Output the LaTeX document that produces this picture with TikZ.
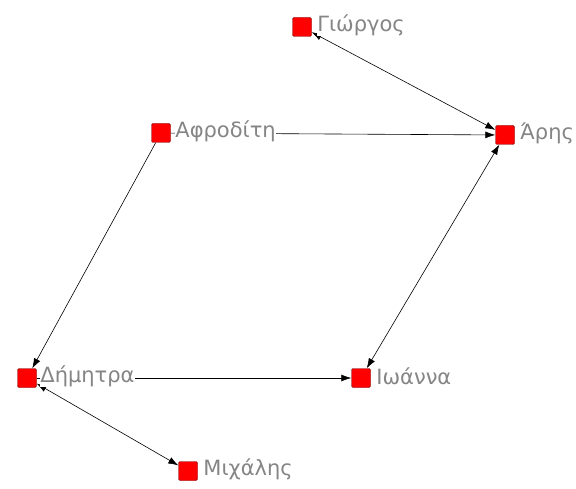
\documentclass[tikz,border=0pt]{standalone}
\usepackage{fontspec}
\setmainfont{DejaVu Sans}
\usetikzlibrary{positioning,arrows.meta}
\tikzset{>={Latex[length=10pt,width=7pt]}}

\begin{document}
\begin{tikzpicture}[x=1pt, y=-1pt,
    person/.style={draw=red!45!black, fill=red, minimum size=19pt, inner sep=0pt, rounded corners=1.5pt},
    personname/.style={text=black!48, font=\fontsize{21}{21}\selectfont, fill=white, inner sep=0.5pt},
    link/.style={line width=0.6pt}]
    \useasboundingbox (0,0) rectangle (576,489);

    % Draw the people
    \node[person] (giorgos)  at (302,27)  {};
    \node[person] (afroditi) at (161,133) {};
    \node[person] (aris)     at (505,135) {};
    \node[person] (dimitra)  at (27,378)  {};
    \node[person] (ioanna)   at (361,378) {};
    \node[person] (michalis) at (188,471) {};

    % Draw the links between them
    \draw[link, <->] (giorgos) -- (aris);
    \draw[link, ->]  (afroditi) -- (aris);
    \draw[link, ->]  (afroditi) -- (dimitra);
    \draw[link, ->]  (dimitra) -- (ioanna);
    \draw[link, <->] (ioanna) -- (aris);
    \draw[link, <->] (dimitra) -- (michalis);

    % Add the names (white boxes hide the start of the lines)
    \node[personname, right=5pt of giorgos, yshift=2pt]  (giorgos-name)  {Γιώργος};
    \node[personname, right=4pt of afroditi, yshift=2pt] (afroditi-name) {Αφροδίτη};
    \node[personname, right=5pt of aris, yshift=2pt]     (aris-name)     {Άρης};
    \node[personname, right=3pt of dimitra, yshift=2pt]  (dimitra-name)  {Δήμητρα};
    \node[personname, right=5pt of ioanna, yshift=2pt]   (ioanna-name)   {Ιωάννα};
    \node[personname, right=5pt of michalis, yshift=2pt] (michalis-name) {Μιχάλης};
\end{tikzpicture}
\end{document}
